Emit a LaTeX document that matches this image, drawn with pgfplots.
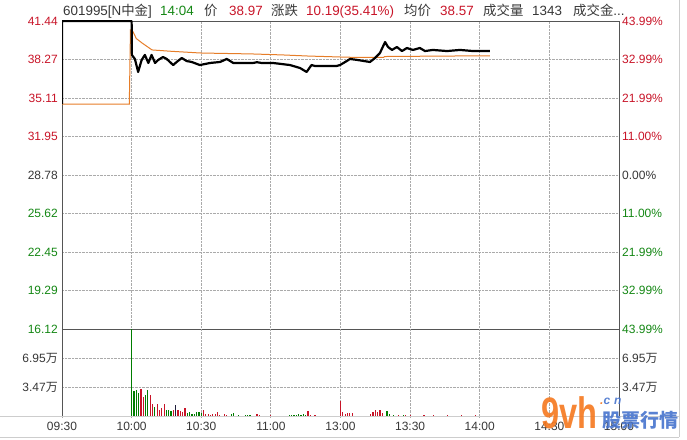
\documentclass[border=0pt]{standalone}
\usepackage{pgfplots}
\pgfplotsset{compat=1.18}
\usepackage{fontspec}
\setmainfont{Liberation Sans}
\newfontfamily\cjk{Noto Sans CJK SC}
\definecolor{upred}{RGB}{200,20,40}
\definecolor{dngreen}{RGB}{20,135,20}
\definecolor{bargreen}{RGB}{0,125,0}
\definecolor{txtgray}{RGB}{55,55,55}
\definecolor{avgorange}{RGB}{230,125,40}
\definecolor{gridgray}{RGB}{170,170,170}
\definecolor{framegray}{RGB}{85,85,85}
\definecolor{lightframe}{RGB}{205,205,205}
\definecolor{wmblue}{RGB}{70,115,205}
\definecolor{wmorange}{RGB}{245,120,30}
\definecolor{darkbar}{RGB}{30,30,60}
\pgfplotsset{
  base/.style={scale only axis, xmin=0, xmax=240, xtick={0,30,...,240},
    grid=major, major grid style={densely dotted, gridgray, line width=0.8bp},
    tick style={draw=none}, axis line style={framegray, line width=0.8bp}},
}
\begin{document}
\fontsize{12bp}{14bp}\selectfont
\begin{tikzpicture}
\useasboundingbox (0bp,0bp) rectangle (687bp,440bp);
% price panel
\begin{axis}[base, at={(62bp,111bp)}, anchor=south west, width=557bp, height=308bp,
  ymin=16.12, ymax=41.44,
  ytick={16.12,19.285,22.45,25.615,28.78,31.945,35.11,38.275,41.44},
  yticklabels={\textcolor{dngreen}{16.12},\textcolor{dngreen}{19.29},\textcolor{dngreen}{22.45},\textcolor{dngreen}{25.62},\textcolor{txtgray}{28.78},\textcolor{upred}{31.95},\textcolor{upred}{35.11},\textcolor{upred}{38.27},\textcolor{upred}{41.44}},
  xticklabels={},
  yticklabel style={anchor=east, inner sep=0pt, xshift=-4bp}]
\addplot[avgorange, line width=1bp] coordinates {
(0,34.6) (29.0,34.6) (29.5,40.70) (30.5,40.6) (32,40.0) (34.5,39.63) (38.8,39.06) (47,38.95) (59.5,38.81) (82,38.73) (95,38.65) (106,38.56) (120,38.48) (128,38.44) (138.5,38.44) (139,38.52) (160,38.55) (175,38.57) (184.4,38.57)};
\addplot[black, line width=2.2bp, line join=round] coordinates {
(0,34.6) (0,41.44) (30,41.44) (30.1,38.65) (31.4,38.32) (32.8,37.25) (34.3,38.23) (35.7,38.65) (37.2,37.99) (38.6,38.65) (40.1,37.99) (41.4,38.23) (43.5,38.48) (45.1,38.32) (47.9,37.82) (49.4,38.07) (51.6,38.40) (53.7,38.15) (55.9,38.07) (59.4,37.82) (63.8,37.99) (68.1,38.07) (71,38.32) (73.8,37.99) (82.3,37.99) (84,38.05) (86,37.99) (90.9,37.99) (98.2,37.82) (102.5,37.58) (105.4,37.25) (107.5,37.82) (109,37.74) (118.3,37.74) (119.8,37.82) (122.7,38.15) (124.1,38.32) (127.5,38.23) (132.7,38.07) (134.9,38.40) (137,38.81) (139.2,39.71) (140.5,39.30) (142.2,39.06) (144.3,39.30) (146.5,38.97) (148.6,39.22) (151.2,39.06) (154.2,39.22) (156.4,38.97) (159.8,39.06) (165.9,38.97) (171.5,39.06) (177.1,38.97) (184.4,38.97)};
\end{axis}
% right percentage labels
\begin{axis}[scale only axis, at={(62bp,111bp)}, anchor=south west, width=557bp, height=308bp,
  xmin=0, xmax=240, ymin=16.12, ymax=41.44, axis y line*=right, axis x line=none,
  axis line style={framegray, line width=0.8bp}, tick style={draw=none},
  ytick={16.12,19.285,22.45,25.615,28.78,31.945,35.11,38.275,41.44},
  yticklabels={\textcolor{dngreen}{43.99\%},\textcolor{dngreen}{32.99\%},\textcolor{dngreen}{21.99\%},\textcolor{dngreen}{11.00\%},\textcolor{txtgray}{0.00\%},\textcolor{upred}{11.00\%},\textcolor{upred}{21.99\%},\textcolor{upred}{32.99\%},\textcolor{upred}{43.99\%}},
  yticklabel style={anchor=west, inner sep=0pt, xshift=3bp}]
\end{axis}
% volume panel
\begin{axis}[base, at={(62bp,23bp)}, anchor=south west, width=557bp, height=88bp,
  ymin=0, ymax=10.42, ytick={3.475,6.95},
  separate axis lines, x axis line style={draw=none},
  yticklabels={\textcolor{txtgray}{3.47{\cjk 万}},\textcolor{txtgray}{6.95{\cjk 万}}},
  xticklabels={09:30,10:00,10:30,11:00,13:00,13:30,14:00,14:30,15:00},
  xticklabel style={inner sep=0pt, yshift=-5bp, text=txtgray},
  yticklabel style={anchor=east, inner sep=0pt, xshift=-4bp}]
\addplot[ycomb, bargreen, line width=1.2bp, mark=none] coordinates {
(30,10.4) (31,3.1) (32,3.2) (33,2.9) (36,2.6) (37,3.2) (40,1.15) (45,0.85) (46,0.85) (47,0.7) (54,0.5) (55,0.65) (56,0.35) (57,0.3) (58,0.55) (59,0.55) (60,0.45) (69,0.15) (73,0.3) (74,0.44) (75,0.15) (76,0.2) (77,0.1) (78,0.15) (79,0.25) (80,0.2) (81,0.25) (82,0.15) (83,0.1) (86,0.1) (87,0.1) (88,0.1) (89,0.12) (91,0.1) (92,0.1) (93,0.1) (94,0.12) (95,0.1) (96,0.1) (97,0.1) (98,0.2) (99,0.2) (100,0.25) (101,0.2) (102,0.3) (103,0.25) (104,0.35) (105,0.25) (108,0.1) (110,0.1) (111,0.1) (112,0.12) (113,0.1) (114,0.1) (115,0.1) (116,0.12) (117,0.15) (118,0.1) (119,0.1) (126,0.12) (128,0.1) (130,0.1) (132,0.12) (139,0.15) (140,0.7) (141,0.4) (142,0.15) (143,0.25) (144,0.1) (146,0.15) (147,0.2) (149,0.1) (151,0.15) (153,0.1) (155,0.15) (157,0.1) (159,0.12) (161,0.1) (163,0.15) (165,0.1) (167,0.12) (169,0.15) (171,0.1) (173,0.12) (175,0.1) (177,0.15) (179,0.1) (181,0.12) (183,0.1)};
\addplot[ycomb, upred, line width=1.2bp, mark=none] coordinates {
(34,3.35) (35,2.4) (38,2.55) (39,1.55) (41,1.55) (42,0.85) (43,1.05) (44,1.55) (48,0.85) (50,0.85) (51,0.75) (52,0.65) (53,1.05) (61,0.85) (62,0.35) (63,0.3) (64,0.25) (65,0.3) (66,0.3) (67,0.55) (68,0.25) (70,0.3) (71,0.25) (72,0.15) (84,0.4) (85,0.25) (90,0.25) (106,0.72) (107,0.25) (109,0.25) (120,1.84) (121,0.56) (122,0.4) (123,0.5) (124,0.45) (125,0.45) (127,0.12) (129,0.12) (131,0.15) (133,0.4) (134,0.55) (135,0.84) (136,0.6) (137,0.84) (138,0.45) (145,0.2) (148,0.2) (150,0.2) (152,0.12) (154,0.15) (156,0.2) (158,0.15) (160,0.2) (162,0.12) (164,0.15) (166,0.2) (168,0.15) (170,0.12) (172,0.2) (174,0.15) (176,0.12) (178,0.2) (180,0.15) (182,0.12) (184,0.1)};
\addplot[ycomb, darkbar, line width=1.2bp, mark=none] coordinates {(49,1.45)};
\end{axis}
% right volume labels
\begin{axis}[scale only axis, at={(62bp,23bp)}, anchor=south west, width=557bp, height=88bp,
  xmin=0, xmax=240, ymin=0, ymax=10.42, axis y line*=right, axis x line=none,
  axis line style={framegray, line width=0.8bp}, tick style={draw=none},
  ytick={3.475,6.95},
  yticklabels={\textcolor{txtgray}{3.47{\cjk 万}},\textcolor{txtgray}{6.95{\cjk 万}}},
  yticklabel style={anchor=west, inner sep=0pt, xshift=3bp}]
\end{axis}
\begin{scope}[x=1bp, y=1bp]
% frame lines
\draw[lightframe, line width=1bp] (0,23) -- (679,23);
\draw[lightframe, line width=1bp] (0,3) -- (679,3);
\draw[lightframe, line width=1bp] (679,3) -- (679,440);
% header
\begin{scope}[every node/.style={anchor=base west, inner sep=0pt, font=\fontsize{13.4bp}{15bp}\selectfont}]
\node[text=txtgray] at (63,424) {601995[N{\cjk 中金}]};
\node[text=dngreen] at (160,424) {14:04};
\node[text=txtgray] at (204,424) {\cjk 价};
\node[text=upred] at (229,424) {38.97};
\node[text=txtgray] at (271,424) {\cjk 涨跌};
\node[text=upred] at (306,424) {10.19(35.41\%)};
\node[text=txtgray] at (404,424) {\cjk 均价};
\node[text=upred] at (440,424) {38.57};
\node[text=txtgray] at (483,424) {\cjk 成交量};
\node[text=txtgray] at (532,424) {1343};
\node[text=txtgray] at (573,424) {{\cjk 成交金}...};
\end{scope}
% watermark
\begin{scope}[every node/.style={anchor=base west, inner sep=0pt}]
\node[text=wmorange, opacity=0.9, xscale=0.74] at (541,12) {\fontsize{44bp}{44bp}\selectfont\bfseries 9vh};
\node[text=wmblue, opacity=0.9] at (602,13) {\fontsize{19bp}{19bp}\selectfont\cjk\bfseries 股票行情};
\node[text=wmblue, opacity=0.9] at (600,36) {\fontsize{12bp}{12bp}\selectfont\bfseries\itshape {\color{wmorange}.}c\,\,n};
\end{scope}
\end{scope}
\end{tikzpicture}
\end{document}
